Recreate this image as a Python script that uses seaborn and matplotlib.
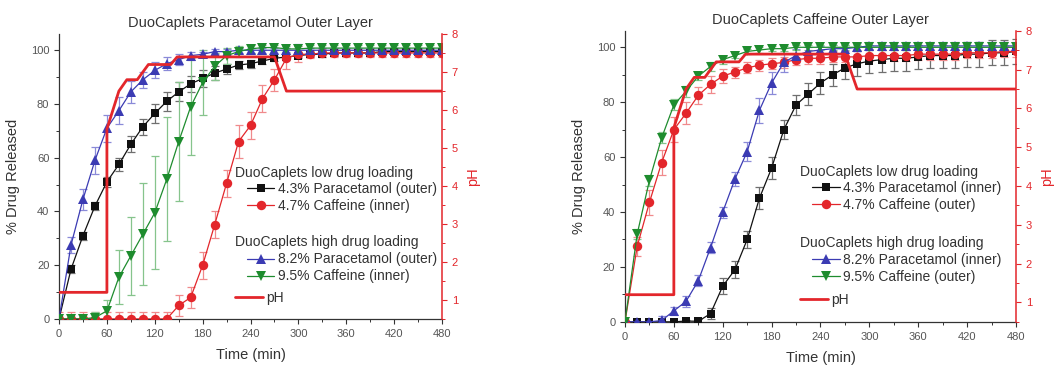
import numpy as np
import pandas as pd
import matplotlib
matplotlib.use("Agg")
import matplotlib.pyplot as plt
from matplotlib.lines import Line2D
from matplotlib.ticker import MultipleLocator
import seaborn as sns

# ---------------------------------------------------------------- data
time = list(range(0, 481, 15))

# pH profile of the dissolution medium (time, pH)
ph_time = [0, 60, 60, 75, 85, 98, 105, 112, 140, 148, 270, 285, 480]
ph_value = [1.2, 1.2, 5.5, 6.5, 6.8, 6.8, 7.0, 7.2, 7.2, 7.4, 7.4, 6.5, 6.5]

# Paracetamol outer layer caplets
pa_para_low = [0, 18.5, 31, 42, 51, 57.5, 65, 71.5, 76.5, 81, 84.5, 87.5, 89.5, 91.5, 93, 94.5,
               95, 96, 97, 97.5, 98, 98.5, 98.5, 99, 99, 99, 99, 99.5, 99.5, 99.5, 99.5, 99.5, 99.5]
pa_para_low_sd = [0, 1.5, 1.5, 1.5, 2, 2.5, 3, 3, 3.5, 3.5, 3.5, 3, 3, 2.5, 2, 1.5,
                  1.5, 1, 1, 1, 1, 1, 1, 1, 1, 1, 1, 1, 1, 1, 1, 1, 1]
pa_caf_low = [0, 0, 0, 0, 0, 0, 0, 0, 0, 0, 5, 8, 20, 35, 50.5, 66,
              72, 82, 89, 97, 98.5, 98.5, 99, 99, 99, 99, 99, 99, 99, 99, 99, 99, 99]
pa_caf_low_sd = [2.5, 2.5, 2.5, 2.5, 2.5, 2.5, 2.5, 2.5, 2.5, 2.5, 4, 4, 5, 5, 5, 6,
                 5, 5, 4, 4, 3, 1.5, 1.5, 1.5, 1.5, 1.5, 1.5, 1.5, 1.5, 1.5, 1.5, 1.5, 1.5]
pa_para_high = [0, 27.5, 44.5, 59, 71, 77.5, 84.5, 89, 92.5, 95, 96.5, 98, 98.5, 99.5, 99.5, 100,
                100, 100, 100, 100, 100, 100, 100, 100, 100, 100, 100, 100, 100, 100, 100, 100, 100]
pa_para_high_sd = [0, 3, 4, 5, 5, 5, 4, 3, 3, 2.5, 2, 1.5, 1, 1, 1, 1,
                   1, 1, 1, 1, 2.5, 1, 1, 1, 1, 1, 1, 1, 1, 1, 1, 1, 1]
pa_caf_high = [0, 0, 0, 0.5, 3, 15.5, 23.5, 31.5, 39.5, 52, 66, 79, 88, 94, 98, 99.5,
               100.5, 101, 101, 100.5, 100.5, 100.8, 100.8, 100.8, 100.8, 100.8, 100.8, 100.8,
               100.8, 100.8, 100.8, 100.8, 100.8]
pa_caf_high_sd = [0, 0.5, 0.5, 2, 4, 10, 14.5, 19, 21, 23, 22, 18, 12, 5, 3, 2,
                  1.5, 1, 1, 1, 1, 1, 1, 1, 1, 1, 1, 1, 1, 1, 1, 1, 1]

# Caffeine outer layer caplets
ca_para_low = [0, 0, 0, 0, 0, 0.3, 0.2, 3, 13, 19, 30, 45, 56, 70, 79, 83,
               87, 90, 92.5, 94, 95, 95.5, 96, 96, 96.5, 97, 97, 97, 97.5, 97.5, 98, 98, 98.5]
ca_para_low_sd = [0, 0, 0, 0, 0, 0.5, 1, 2, 3, 3, 3, 4, 4, 3.5, 3.5, 4,
                  4, 4, 4, 4.5, 4.5, 4.5, 4.5, 4.5, 4.5, 4.5, 4.5, 4.5, 4.5, 4.5, 4.5, 4.5, 4.5]
ca_caf_low = [0, 27.5, 43.5, 58, 70, 76, 82.5, 86.5, 89.5, 91, 92.5, 93.5, 94, 94.5, 95.5, 96,
              96, 96.5, 96.5, 96.5, 97, 97, 97, 97, 97.5, 97.5, 97.5, 97.5, 98, 98, 98, 98.5, 98.5]
ca_caf_low_sd = [0, 3.5, 4.5, 4.5, 4.5, 4, 3, 3, 2.5, 2, 2, 2, 2, 2, 2, 2,
                 2, 2, 2, 2, 2, 2, 2, 2, 2, 2, 2, 2, 2, 2, 2, 2, 2]
ca_para_high = [0, 0, 0, 0.5, 4, 7.5, 15, 27, 40, 52, 62, 77, 87, 94.5, 97, 98.5,
                99, 99.5, 99.5, 100, 100.5, 100.5, 100.5, 100.5, 100.5, 100.5, 100.5, 100.5,
                100.5, 100.5, 100.5, 100.5, 100.5]
ca_para_high_sd = [0, 0, 0, 1.5, 1.5, 2, 2, 2, 2, 2.5, 3.5, 4.5, 4, 3.5, 2.5, 1.5,
                   1.5, 1.5, 1.5, 1.5, 1.5, 1.5, 1.5, 1.5, 1.5, 1.5, 1.5, 1.5, 1.5, 1.5, 1.5, 1.5, 1.5]
ca_caf_high = [0, 32, 51.5, 67, 79, 84, 89.5, 93, 95.5, 97, 98.5, 99, 99.5, 99.5, 100, 100,
               100, 100, 100, 100, 100, 100, 100, 100, 100, 100, 100, 100, 100, 100, 100, 100, 100]
ca_caf_high_sd = [0, 2, 2, 2, 2, 2, 1.5, 1.5, 1.5, 1, 1, 1, 1, 1, 1, 1,
                  1, 1, 1, 1, 1, 1, 1, 1, 1, 1, 1, 1, 1, 1, 1, 1, 1]

titles = ["DuoCaplets Paracetamol Outer Layer", "DuoCaplets Caffeine Outer Layer"]
labels_left = ["4.3% Paracetamol (outer)", "4.7% Caffeine (inner)",
               "8.2% Paracetamol (outer)", "9.5% Caffeine (inner)"]
labels_right = ["4.3% Paracetamol (inner)", "4.7% Caffeine (outer)",
                "8.2% Paracetamol (inner)", "9.5% Caffeine (outer)"]
group_titles = ["DuoCaplets low drug loading", "DuoCaplets high drug loading"]

# ---------------------------------------------------------------- style
sns.set_style("ticks")
plt.rcParams["font.family"] = ["Liberation Sans", "DejaVu Sans"]

RED = "#e3262b"
COLORS = ["#111111", "#e3262b", "#3b3bb3", "#1e8c2e"]
ERR_COLORS = ["#6f6f6f", "#f08a8c", "#8a8ad8", "#86c48c"]
MARKERS = ["s", "o", "^", "v"]
MSIZE = [6.3, 6.8, 6.8, 6.8]

fig = plt.figure(figsize=(10.6, 3.67), dpi=100)
ax_l = fig.add_axes([0.0557, 0.131, 0.3613, 0.776])
ax_r = fig.add_axes([0.5896, 0.123, 0.3689, 0.793])


def draw_panel(ax, series, errors, labels, title, legend_x, legend_y):
    frames = []
    for lab, vals in zip(labels, series):
        frames.append(pd.DataFrame({"Time (min)": time, "release": vals, "series": lab}))
    df = pd.concat(frames, ignore_index=True)

    for i, (vals, sd) in enumerate(zip(series, errors)):
        ax.errorbar(time, vals, yerr=sd, fmt="none", ecolor=ERR_COLORS[i],
                    elinewidth=0.9, capsize=2.6, capthick=0.9, zorder=2)

    for i, lab in enumerate(labels):
        sub = df[df["series"] == lab]
        sns.lineplot(data=sub, x="Time (min)", y="release", ax=ax, color=COLORS[i],
                     marker=MARKERS[i], markersize=MSIZE[i], markeredgewidth=0,
                     linewidth=0.9, estimator=None, sort=False, legend=False, zorder=3)

    ax.set_xlim(0, 480)
    ax.set_ylim(0, 106)
    ax.xaxis.set_major_locator(MultipleLocator(60))
    ax.xaxis.set_minor_locator(MultipleLocator(30))
    ax.yaxis.set_major_locator(MultipleLocator(20))
    ax.yaxis.set_minor_locator(MultipleLocator(10))
    ax.set_xlabel("Time (min)", fontsize=10.5, color="#333333", labelpad=7)
    ax.set_ylabel("% Drug Released", fontsize=10.5, color="#333333", labelpad=8)
    ax.set_title(title, fontsize=10.5, color="#333333", pad=5)
    ax.tick_params(axis="both", which="major", labelsize=8, colors="#333333",
                   labelcolor="#555555", length=3.5, width=0.8)
    ax.tick_params(axis="both", which="minor", length=2, width=0.7, colors="#333333")
    ax.spines["top"].set_visible(False)
    ax.spines["right"].set_visible(False)
    for s in ("left", "bottom"):
        ax.spines[s].set_color("#333333")
        ax.spines[s].set_linewidth(0.9)

    # pH on a secondary axis
    ax2 = ax.twinx()
    sns.lineplot(x=ph_time, y=ph_value, ax=ax2, color=RED, linewidth=2.0,
                 estimator=None, sort=False, legend=False, zorder=4)
    ax2.set_ylim(0.5, 8.0)
    ax2.yaxis.set_major_locator(MultipleLocator(1))
    ax2.yaxis.set_minor_locator(MultipleLocator(0.5))
    ax2.set_ylabel("pH", fontsize=10.5, color=RED, labelpad=6)
    ax2.tick_params(axis="y", which="major", labelsize=8, colors=RED, length=3.5, width=0.8)
    ax2.tick_params(axis="y", which="minor", colors=RED, length=2, width=0.7)
    ax2.spines["right"].set_color(RED)
    ax2.spines["right"].set_linewidth(1.1)
    for s in ("top", "left", "bottom"):
        ax2.spines[s].set_visible(False)
    ax2.set_xlim(0, 480)

    # grouped legend
    fs = 10
    handles = [Line2D([], [], color=COLORS[i], marker=MARKERS[i], markersize=MSIZE[i],
                      markeredgewidth=0, linewidth=0.9) for i in range(4)]
    row = 0.058
    ax.text(legend_x, legend_y, group_titles[0], transform=ax.transAxes,
            fontsize=fs, color="#333333", va="center", ha="left", zorder=6)
    ax.text(legend_x, legend_y - 4.2 * row, group_titles[1], transform=ax.transAxes,
            fontsize=fs, color="#333333", va="center", ha="left", zorder=6)
    common = dict(frameon=False, fontsize=fs, handlelength=2.0, handletextpad=0.25,
                  labelspacing=0.22, borderpad=0, borderaxespad=0, loc="upper left",
                  labelcolor="#333333")
    lg1 = ax2.legend(handles[:2], labels[:2],
                     bbox_to_anchor=(legend_x + 0.03, legend_y - 0.55 * row), **common)
    ax2.add_artist(lg1)
    lg2 = ax2.legend(handles[2:], labels[2:],
                     bbox_to_anchor=(legend_x + 0.03, legend_y - 4.8 * row), **common)
    ax2.add_artist(lg2)
    ph_handle = Line2D([], [], color=RED, linewidth=2.0)
    ax2.legend([ph_handle], ["pH"],
               bbox_to_anchor=(legend_x, legend_y - 7.15 * row), **common)


draw_panel(ax_l, [pa_para_low, pa_caf_low, pa_para_high, pa_caf_high],
           [pa_para_low_sd, pa_caf_low_sd, pa_para_high_sd, pa_caf_high_sd],
           labels_left, titles[0], 0.46, 0.512)
draw_panel(ax_r, [ca_para_low, ca_caf_low, ca_para_high, ca_caf_high],
           [ca_para_low_sd, ca_caf_low_sd, ca_para_high_sd, ca_caf_high_sd],
           labels_right, titles[1], 0.448, 0.515)

fig.savefig("out.png", dpi=100)
